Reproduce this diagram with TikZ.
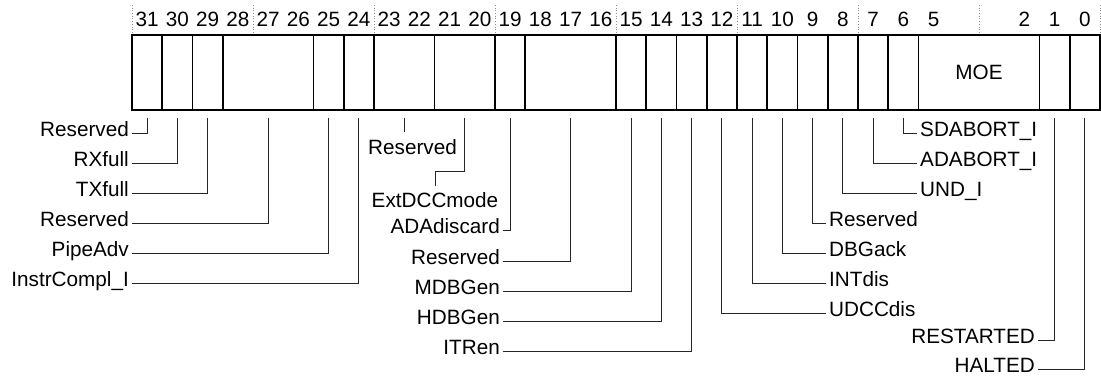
\documentclass[tikz,border=0pt]{standalone}
\usepackage{fontspec}
\setmainfont{Liberation Sans}
\begin{document}
\begin{tikzpicture}[x=1pt,y=-1pt,
  lbl/.style={font=\fontsize{20.7}{24}\selectfont, inner xsep=3pt, inner ysep=6pt},
  conn/.style={draw=black!85, line width=1pt},
  field/.style={draw=black, line width=1.8pt},
  guide/.style={draw=black!45, dotted, line width=0.7pt}]
\useasboundingbox (0,0) rectangle (1101,387);
% guide lines every 4 bits
\foreach \k in {0,...,8}
  \draw[guide] ({132+4*\k*30.25},5) -- ({132+4*\k*30.25},35);
% bit numbers
\foreach \n in {31,30,...,5,2,1,0}
  \node[lbl, inner sep=0pt, anchor=base] (h\n) at ({132+(31.5-\n)*30.25},26.5) {\n};
% register box
\draw[field] (132,35) rectangle (1100,110);
\foreach \n in {30,29,28,25,24,23,21,19,18,15,14,13,12,11,10,9,8,7,6,5,1,0}
  \draw[field] ({132+(31-\n)*30.25},35) -- ({132+(31-\n)*30.25},110);
\node[lbl] (moe) at (979,72.5) {MOE};
% connector start points (below fields)
\foreach \n in {31,30,29,25,24,19,15,14,13,12,11,10,9,8,7,6,1,0}
  \coordinate (b\n) at ({132+(31.5-\n)*30.25},118);
\coordinate (b28) at (268.25,118);
\coordinate (b23) at (404.5,118);
\coordinate (b21) at (464.9,118);
\coordinate (b18) at (570.6,118);
% left labels
\node[lbl, anchor=mid east] (l31) at (132,134) {Reserved};
\node[lbl, anchor=mid east] (l30) at (132,164) {RXfull};
\node[lbl, anchor=mid east] (l29) at (132,194) {TXfull};
\node[lbl, anchor=mid east] (l28) at (132,224) {Reserved};
\node[lbl, anchor=mid east] (l25) at (132,254) {PipeAdv};
\node[lbl, anchor=mid east] (l24) at (132,284) {InstrCompl\_I};
\foreach \n in {31,30,29,28,25,24}
  \draw[conn] (b\n) |- (l\n.mid east);
% middle labels
\node[lbl, inner sep=0pt, anchor=base west] (m23) at (368,155) {Reserved};
\coordinate (e23) at (404.5,132);
\draw[conn] (b23) -- (e23);
\node[lbl, inner ysep=0pt, anchor=base] (m21) at (435,208) {ExtDCCmode};
\draw[conn] (b21) -- ++(0,54) -| ([yshift=7pt]m21.north);
\node[lbl, anchor=mid east] (m19) at (503,231) {ADAdiscard};
\node[lbl, anchor=mid east] (m18) at (503,262) {Reserved};
\node[lbl, anchor=mid east] (m15) at (503,292) {MDBGen};
\node[lbl, anchor=mid east] (m14) at (503,322) {HDBGen};
\node[lbl, anchor=mid east] (m13) at (503,352) {ITRen};
\foreach \n in {19,18,15,14,13}
  \draw[conn] (b\n) |- (m\n.mid east);
% right labels
\node[lbl, anchor=mid west] (r6) at (917,134) {SDABORT\_I};
\node[lbl, anchor=mid west] (r7) at (917,164) {ADABORT\_I};
\node[lbl, anchor=mid west] (r8) at (917,194) {UND\_I};
\node[lbl, anchor=mid west] (r9) at (826,224) {Reserved};
\node[lbl, anchor=mid west] (r10) at (826,254) {DBGack};
\node[lbl, anchor=mid west] (r11) at (826,284) {INTdis};
\node[lbl, anchor=mid west] (r12) at (826,314) {UDCCdis};
\foreach \n in {6,7,8,9,10,11,12}
  \draw[conn] (b\n) |- (r\n.mid west);
\node[lbl, anchor=mid east] (r1) at (1038,341) {RESTARTED};
\node[lbl, anchor=mid east] (r0) at (1038,370) {HALTED};
\foreach \n in {1,0}
  \draw[conn] (b\n) |- (r\n.mid east);
\end{tikzpicture}
\end{document}
